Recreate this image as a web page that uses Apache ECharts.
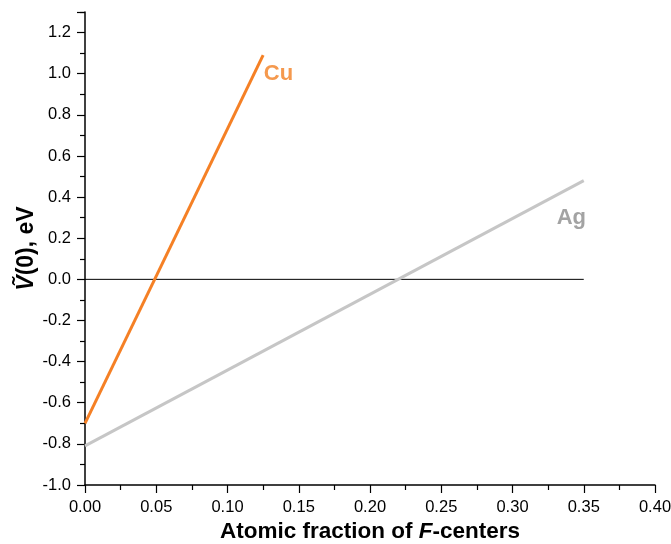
<!DOCTYPE html>
<html>
<head>
<meta charset="utf-8">
<script src="https://cdn.jsdelivr.net/npm/echarts@6/dist/echarts.min.js"></script>
<style>
  html, body { margin: 0; padding: 0; background: #fff; }
  #main { width: 671px; height: 544px; }
</style>
</head>
<body>
<div id="main"></div>
<script>
// data
const cuLine = [[0, -0.70], [0.125, 1.09]];
const agLine = [[0, -0.81], [0.35, 0.48]];
const zeroLine = [[0, 0], [0.35, 0]];
const cuLabelAt = [0.1255, 1.0];
const agLabelAt = [0.331, 0.3];

const font = 'Liberation Sans, Arial, Helvetica, sans-serif';

const chart = echarts.init(document.getElementById('main'));
chart.setOption({
    animation: false,
    grid: { left: 85, right: 16, top: 12, bottom: 59, containLabel: false, outerBoundsMode: 'none' },
    xAxis: {
        type: 'value',
        min: 0, max: 0.4, interval: 0.05,
        name: 'Atomic fraction of {i|F}-centers',
        nameLocation: 'middle',
        nameGap: 35,
        nameMoveOverlap: false,
        nameTextStyle: {
            fontFamily: font, fontSize: 22.5, fontWeight: 'bold', color: '#000',
            rich: { i: { fontFamily: font, fontSize: 22.5, fontWeight: 'bold', fontStyle: 'italic', color: '#000' } }
        },
        axisLine: { onZero: false, lineStyle: { color: '#000', width: 1.5 } },
        axisTick: { inside: false, length: 8, lineStyle: { color: '#000', width: 1.2 } },
        minorTick: { show: true, splitNumber: 2, length: 5, lineStyle: { color: '#000', width: 1.2 } },
        axisLabel: {
            fontFamily: font, fontSize: 16.5, color: '#000', margin: 14,
            formatter: v => v.toFixed(2)
        },
        splitLine: { show: false }
    },
    yAxis: {
        type: 'value',
        min: -1.0, max: 1.3, interval: 0.2,
        name: '{i|V\u0303}(0), eV',
        nameLocation: 'middle',
        nameGap: 47,
        nameRotate: 90,
        nameMoveOverlap: false,
        nameTextStyle: {
            fontFamily: font, fontSize: 23, fontWeight: 'bold', color: '#000',
            rich: { i: { fontFamily: font, fontSize: 23, fontWeight: 'bold', fontStyle: 'italic', color: '#000' } }
        },
        axisLine: { show: true, onZero: false, lineStyle: { color: '#000', width: 1.5 } },
        axisTick: { show: true, inside: false, length: 8, lineStyle: { color: '#000', width: 1.2 } },
        minorTick: { show: true, splitNumber: 2, length: 5, lineStyle: { color: '#000', width: 1.2 } },
        axisLabel: {
            fontFamily: font, fontSize: 16.5, color: '#000', margin: 14,
            showMaxLabel: false,
            formatter: v => v.toFixed(1)
        },
        splitLine: { show: false }
    },
    series: [
        {
            type: 'line', data: zeroLine, symbol: 'none', silent: true,
            lineStyle: { color: '#000', width: 1 }
        },
        {
            name: 'Ag', type: 'line', data: agLine, symbol: 'none',
            lineStyle: { color: '#c6c6c6', width: 3 }
        },
        {
            name: 'Cu', type: 'line', data: cuLine, symbol: 'none',
            lineStyle: { color: '#f58025', width: 3 }
        },
        {
            type: 'scatter', symbolSize: 0, silent: true,
            data: [{ value: cuLabelAt, name: 'Cu' }],
            label: {
                show: true, position: 'right', distance: 0, formatter: 'Cu',
                fontFamily: font, fontSize: 22, fontWeight: 'bold', color: '#f27f22'
            }
        },
        {
            type: 'scatter', symbolSize: 0, silent: true,
            data: [{ value: agLabelAt, name: 'Ag' }],
            label: {
                show: true, position: 'right', distance: 0, formatter: 'Ag',
                fontFamily: font, fontSize: 22, fontWeight: 'bold', color: '#8c8c8c'
            }
        }
    ]
});
</script>
</body>
</html>
